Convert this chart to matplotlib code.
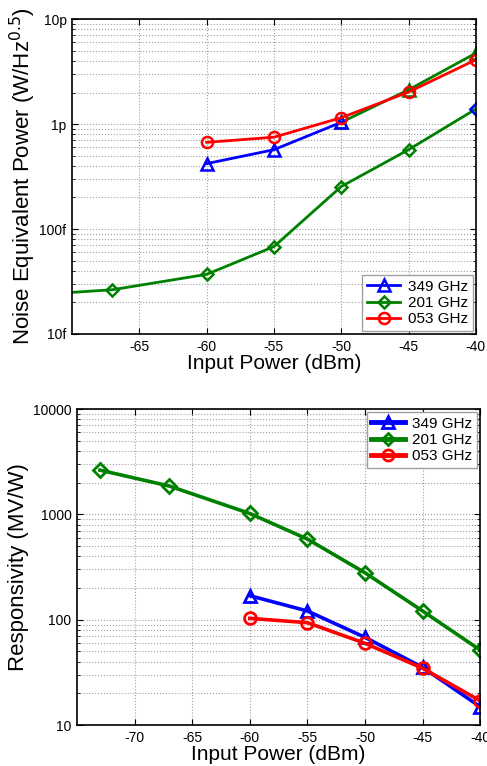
import matplotlib
matplotlib.use("Agg")
import matplotlib.pyplot as plt
from matplotlib.ticker import FixedLocator, FixedFormatter, LogLocator, NullFormatter

plt.rcParams['font.family'] = ['Liberation Sans', 'DejaVu Sans']
plt.rcParams['axes.unicode_minus'] = False

# ---- Top: NEP data (W/Hz^0.5) ----
nep_x_349 = [-60, -55, -50, -45, -40]
nep_349 = [0.42e-12, 0.57e-12, 1.04e-12, 2.12e-12, 4.74e-12]
nep_x_201 = [-73, -67, -60, -55, -50, -45, -40]
nep_201 = [23.5e-15, 26.4e-15, 37e-15, 68e-15, 254e-15, 0.57e-12, 1.39e-12]
nep_x_053 = [-60, -55, -50, -45, -40]
nep_053 = [0.67e-12, 0.75e-12, 1.15e-12, 2.02e-12, 4.1e-12]

# ---- Bottom: Responsivity data (MV/W) ----
r_x_349 = [-60, -55, -50, -45, -40]
r_349 = [169, 121, 68, 35.3, 14.9]
r_x_201 = [-73, -67, -60, -55, -50, -45, -40]
r_201 = [2630, 1860, 1020, 583, 279, 121, 51.5]
r_x_053 = [-60, -55, -50, -45, -40]
r_053 = [103, 93.7, 59.7, 34.6, 17]

labels = ['349 GHz', '201 GHz', '053 GHz']
BLUE, GREEN, RED = '#0000FF', '#008000', '#FF0000'

fig = plt.figure(figsize=(4.87, 7.66), dpi=100)

def style(ax):
    ax.grid(True, which='major', axis='both', linestyle=':', color='#a0a0a0', linewidth=0.8)
    ax.grid(True, which='minor', axis='y', linestyle=':', color='#a0a0a0', linewidth=0.8)
    ax.tick_params(which='both', direction='in', top=True, right=True, labelsize=10, pad=4)
    ax.tick_params(which='major', length=4)
    ax.tick_params(which='minor', length=2)
    for s in ax.spines.values():
        s.set_linewidth(1.2)

# Top axes
ax1 = fig.add_axes([0.148, 0.564, 0.829, 0.411])
lw, ms = 2.0, 8
# 349 GHz: first part blue, continuation drawn green (as in reference)
ax1.plot(nep_x_349[2:], nep_349[2:], color=GREEN, lw=lw, marker='^', ms=ms, mfc='none', mew=1.8)
ax1.plot(nep_x_349[:3], nep_349[:3], color=BLUE, lw=lw, marker='^', ms=ms, mfc='none', mew=1.8)
ax1.plot(nep_x_201, nep_201, color=GREEN, lw=lw, marker='D', ms=6.5, mfc='none', mew=1.8)
ax1.plot(nep_x_201[-1:], nep_201[-1:], color=BLUE, lw=0, marker='D', ms=6.5, mfc='none', mew=1.8)
ax1.plot(nep_x_053, nep_053, color=RED, lw=lw, marker='o', ms=ms, mfc='none', mew=1.8)
ax1.set_yscale('log')
ax1.set_xlim(-70, -40)
ax1.set_ylim(10e-15, 10e-12)
ax1.set_xticks([-65, -60, -55, -50, -45, -40])
ax1.yaxis.set_major_locator(FixedLocator([1e-14, 1e-13, 1e-12, 1e-11]))
ax1.yaxis.set_major_formatter(FixedFormatter(['10f', '100f', '1p', '10p']))
ax1.yaxis.set_minor_locator(LogLocator(base=10, subs=range(2, 10)))
ax1.yaxis.set_minor_formatter(NullFormatter())
style(ax1)
ax1.set_xlabel('Input Power (dBm)', fontsize=15, labelpad=0)
ax1.set_ylabel(r'Noise Equivalent Power (W/Hz$^{0.5}$)', fontsize=16, labelpad=1)
h = [plt.Line2D([], [], color=BLUE, lw=lw, marker='^', ms=ms, mfc='none', mew=1.8),
     plt.Line2D([], [], color=GREEN, lw=lw, marker='D', ms=6.5, mfc='none', mew=1.8),
     plt.Line2D([], [], color=RED, lw=lw, marker='o', ms=ms, mfc='none', mew=1.8)]
ax1.legend(h, labels, loc='lower right', fontsize=11, fancybox=False, edgecolor='#a0a0a0',
           framealpha=1, handlelength=2.2, borderpad=0.3, labelspacing=0.15,
           handletextpad=0.5, borderaxespad=0.2)

# Bottom axes
ax2 = fig.add_axes([0.158, 0.0535, 0.828, 0.4125])
lw2 = 2.6
ax2.plot(r_x_201, r_201, color=GREEN, lw=lw2, marker='D', ms=7, mfc='none', mew=2)
ax2.plot(r_x_349, r_349, color=BLUE, lw=lw2, marker='^', ms=8.5, mfc='none', mew=2)
ax2.plot(r_x_053, r_053, color=RED, lw=lw2, marker='o', ms=8.5, mfc='none', mew=2)
ax2.set_yscale('log')
ax2.set_xlim(-75, -40)
ax2.set_ylim(10, 10000)
ax2.set_xticks([-70, -65, -60, -55, -50, -45, -40])
ax2.yaxis.set_major_locator(FixedLocator([10, 100, 1000, 10000]))
ax2.yaxis.set_major_formatter(FixedFormatter(['10', '100', '1000', '10000']))
ax2.yaxis.set_minor_locator(LogLocator(base=10, subs=range(2, 10)))
ax2.yaxis.set_minor_formatter(NullFormatter())
style(ax2)
ax2.set_xlabel('Input Power (dBm)', fontsize=15, labelpad=0)
ax2.set_ylabel('Responsivity (MV/W)', fontsize=16, labelpad=3)
h2 = [plt.Line2D([], [], color=BLUE, lw=3.5, marker='^', ms=8, mfc='none', mew=2),
      plt.Line2D([], [], color=GREEN, lw=3.5, marker='D', ms=6.5, mfc='none', mew=2),
      plt.Line2D([], [], color=RED, lw=3.5, marker='o', ms=8, mfc='none', mew=2)]
ax2.legend(h2, labels, loc='upper right', fontsize=11, fancybox=False, edgecolor='#a0a0a0',
           framealpha=1, handlelength=2.2, borderpad=0.3, labelspacing=0.15,
           handletextpad=0.5, borderaxespad=0.2)

fig.savefig('out.png', dpi=100)
